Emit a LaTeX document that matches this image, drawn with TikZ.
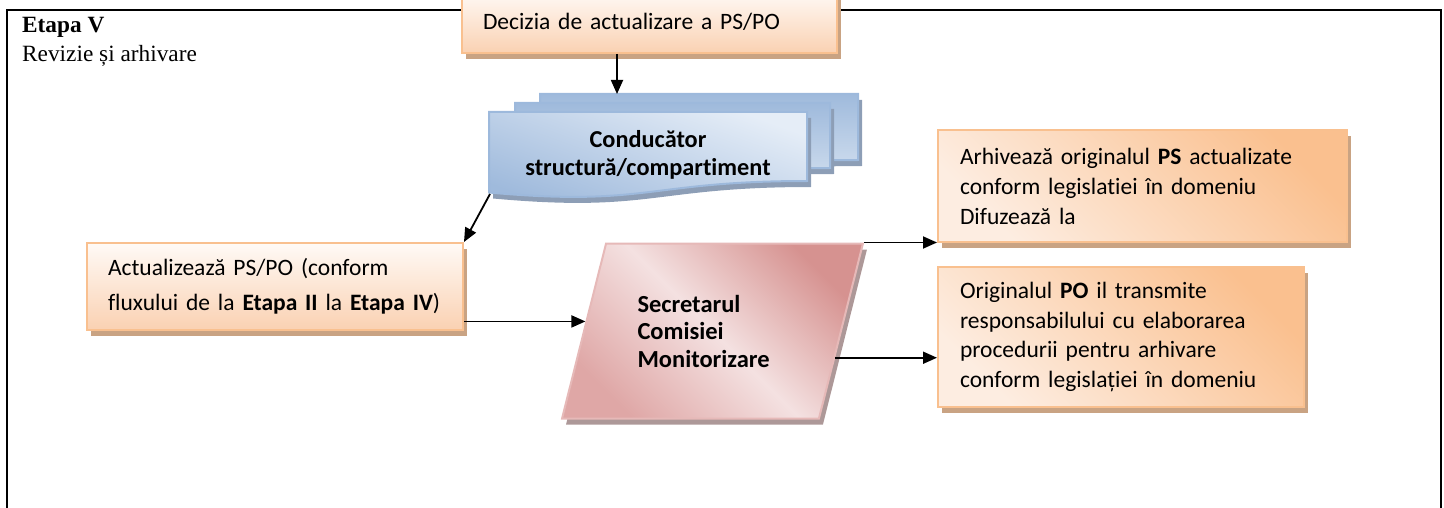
\documentclass[tikz,border=0pt]{standalone}
\usepackage{fontspec}
\setmainfont{Liberation Serif}
\newfontfamily\carl[Ligatures=NoCommon]{Carlito}
\usetikzlibrary{arrows.meta,shapes.geometric,shadows,calc}
\definecolor{orBorder}{HTML}{F9C08F}
\definecolor{orShadow}{HTML}{C9A383}
\definecolor{orDark}{HTML}{FAC08F}
\definecolor{orLight}{HTML}{FDEDE1}
\definecolor{orWhite}{HTML}{FFFAF6}
\definecolor{orPeach}{HTML}{FAD1B2}
\definecolor{blBorder}{HTML}{9DB9DC}
\definecolor{blShadow}{HTML}{8D9EB6}
\definecolor{blLight}{HTML}{E5EDF7}
\definecolor{blDark}{HTML}{9FBADC}
\definecolor{blMid}{HTML}{D7E3F1}
\definecolor{rdBorder}{HTML}{E6B9B8}
\definecolor{rdShadow}{HTML}{AD9898}
\definecolor{rdDark}{HTML}{D69290}
\definecolor{rdMid}{HTML}{F4E1E1}
\definecolor{rdLow}{HTML}{DFA7A6}
\begin{document}
\begin{tikzpicture}[x=1pt,y=-1pt,
  arr/.style={-{Triangle[length=14pt,width=12pt]},line width=1.8pt,black},
  shad/.style={drop shadow={shadow xshift=4pt,shadow yshift=-6pt,fill=#1,opacity=1}},
  obox/.style={draw=orBorder,line width=2pt,shad=orShadow,rectangle,
    inner xsep=21pt,inner ysep=0pt,align=left,anchor=center},
  obox1/.style={obox,top color=orWhite,bottom color=orPeach},
  obox2/.style={obox,top color=orDark,bottom color=orLight,shading angle=-45},
  docfront/.style={draw=blBorder,line width=2pt,shad=blShadow,top color=blLight,bottom color=blDark,shading angle=-20},
  docback/.style={draw=blBorder,line width=2pt,shad=blShadow,top color=blDark,bottom color=blMid},
  para/.style={trapezium,trapezium stretches=true,trapezium left angle=66.8,trapezium right angle=113.2,
    draw=rdBorder,line width=2pt,shad=rdShadow,left color=rdLow,right color=rdDark,middle color=rdMid,shading angle=135,
    inner sep=0pt,align=left},
  serif/.style={inner sep=0pt,anchor=base west,font=\fontsize{23.3}{28}\selectfont}
]
\useasboundingbox (0,0) rectangle (1444,508);
\clip (0,0) rectangle (1444,508);
% frame
\draw[line width=2.2pt] (7,530) -- (7,10.3) -- (1441,10.3) -- (1441,530);
\node[serif,font=\fontsize{23.3}{28}\selectfont\bfseries] (etapa) at (22,33) {Etapa V};
\node[serif] (rev) at (22,62) {Revizie și arhivare};

% decision box
\node[obox1,minimum width=375pt,minimum height=62pt,text width=333pt,
  font=\carl\fontsize{23.5}{29}\selectfont] (dec) at (649.5,22) {Decizia de actualizare a PS/PO};

% stack of documents
\path[docback] (540,94) -- (858,94) -- (858,160) .. controls (699,160) and (699,185) .. (540,171) -- cycle;
\path[docback] (515,103) -- (830,103) -- (830,168) .. controls (672.5,168) and (672.5,193) .. (515,179) -- cycle;
\path[docfront] (489,112) -- (807,112) -- (807,181) .. controls (648,181) and (648,207) .. (489,192.5) -- cycle;
\node[align=center,inner sep=0pt,font=\carl\bfseries\fontsize{24.3}{28}\selectfont] (cond) at (648,155) {Conducător\\structură/compartiment};
\coordinate (stackTop) at (617,94);
\coordinate (condBL) at (490,194);

% update box
\node[obox1,minimum width=376pt,minimum height=87pt,text width=334pt,
  font=\carl\fontsize{23.5}{35}\selectfont] (act) at (275,286.5)
  {Actualizează PS/PO (conform\\fluxului de la \textbf{Etapa II} la \textbf{Etapa IV})};

% secretary parallelogram
\node[para,minimum width=301pt,minimum height=175pt,text width=150pt,
  font=\carl\bfseries\fontsize{24.5}{27.5}\selectfont] (sec) at (712.5,331)
  {Secretarul\\Comisiei\\Monitorizare};

% archive boxes
\node[obox2,minimum width=409pt,minimum height=112pt,text width=365pt,
  font=\carl\fontsize{23.5}{30}\selectfont] (b1) at (1142.5,186)
  {Arhivează originalul \textbf{PS} actualizate\\conform legislatiei în domeniu\\Difuzează la};
\node[obox2,minimum width=366pt,minimum height=140pt,text width=322pt,
  font=\carl\fontsize{23.5}{29.5}\selectfont] (b2) at (1121,337)
  {Originalul \textbf{PO} il transmite\\responsabilului cu elaborarea\\procedurii pentru arhivare\\conform legislației în domeniu};

% connectors
\coordinate (secL) at ($(sec.bottom left corner)!0.554!(sec.top left corner)$);
\coordinate (secR) at ($(sec.bottom right corner)!0.349!(sec.top right corner)$);
\draw[arr] (dec.south -| stackTop) -- (stackTop);
\draw[arr] (condBL) -- (act.north east);
\draw[arr] (act.east |- secL) -- (secL);
\draw[arr] (sec.top right corner) -- (sec.top right corner -| b1.west);
\draw[arr] (secR) -- (secR -| b2.west);
\end{tikzpicture}
\end{document}
